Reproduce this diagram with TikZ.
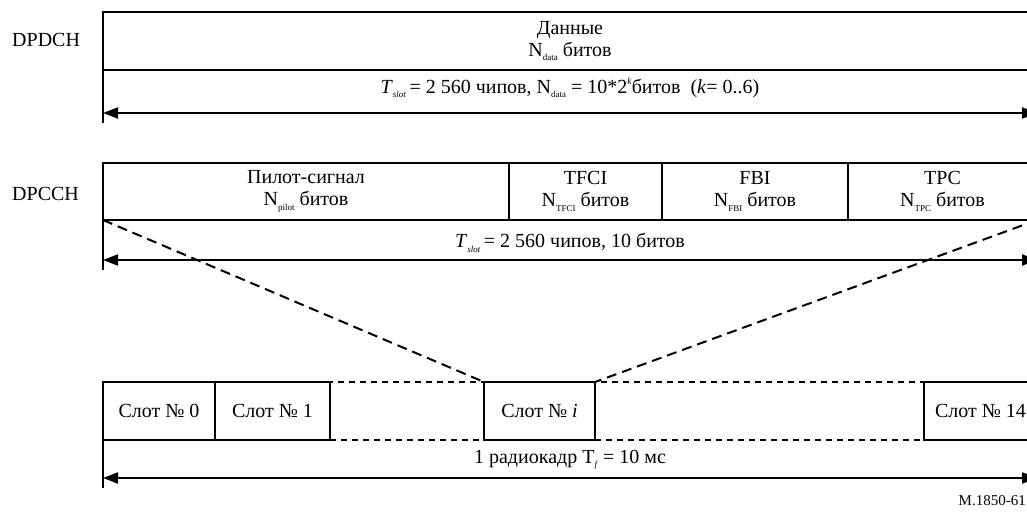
\documentclass[tikz,border=0pt]{standalone}
\usepackage{fontspec}
\setmainfont{Liberation Serif}
\usetikzlibrary{arrows.meta}

% small lowered / raised indices in running text
\newcommand{\lowsub}[1]{\raisebox{-0.5ex}{\fontsize{9}{10}\selectfont #1}}
\newcommand{\highsup}[1]{\raisebox{0.9ex}{\fontsize{9.5}{10}\selectfont #1}}

\tikzset{
  fieldbox/.style={draw, line width=2pt, inner sep=0pt, outer sep=0pt,
    anchor=north west, align=center, font=\fontsize{20}{22}\selectfont},
  gapbox/.style={draw, line width=2pt, dash pattern=on 6pt off 5pt,
    inner sep=0pt, outer sep=0pt, anchor=north west},
  lbl/.style={font=\fontsize{20}{22}\selectfont, inner sep=0pt},
  tick/.style={line width=2pt},
  span/.style={line width=2pt, {Triangle[length=15pt,width=11pt]}-{Triangle[length=15pt,width=11pt]}},
  zoomline/.style={line width=2pt, dash pattern=on 10pt off 6pt}
}

\begin{document}
\begin{tikzpicture}[x=1pt, y=-1pt]
\useasboundingbox (0,0) rectangle (1027,513);
\clip (0,0) rectangle (1027,513);

% ---------- DPDCH ----------
\node[lbl, anchor=west] (dpdchlbl) at (12,40) {DPDCH};
\node[fieldbox, minimum width=934pt, minimum height=58pt] (data) at (103,12)
  {Данные\\N\lowsub{data} битов};
\coordinate (dtick) at (103,123);
\coordinate (dl) at (103,113);
\coordinate (dr) at (1037,113);
\draw[tick] (data.south west) -- (dtick);
\draw[span] (dl) -- (dr);
\node[lbl] (dspan) at (570,88)
  {\textit{T}\lowsub{\textit{slot}}\,= 2 560 чипов, N\lowsub{data} = 10*2\highsup{\textit{k}}битов~ (\textit{k}= 0..6)};

% ---------- DPCCH ----------
\node[lbl, anchor=west] (dpcchlbl) at (12,194) {DPCCH};
\node[fieldbox, minimum width=406pt, minimum height=57pt] (pilot) at (103,163)
  {Пилот-сигнал\\N\lowsub{pilot} битов};
\node[fieldbox, minimum width=153pt, minimum height=57pt] (tfci) at (509,163)
  {TFCI\\N\lowsub{TFCI} битов};
\node[fieldbox, minimum width=186pt, minimum height=57pt] (fbi) at (662,163)
  {FBI\\N\lowsub{FBI} битов};
\node[fieldbox, minimum width=189pt, minimum height=57pt] (tpc) at (848,163)
  {TPC\\N\lowsub{TPC} битов};
\coordinate (ctick) at (103,270);
\coordinate (cl) at (103,260);
\coordinate (cr) at (1037,260);
\draw[tick] (pilot.south west) -- (ctick);
\draw[span] (cl) -- (cr);
\node[lbl] (cspan) at (570,243)
  {\textit{T}\lowsub{\textit{slot}}\,= 2 560 чипов, 10 битов};

% ---------- radio frame ----------
\node[fieldbox, minimum width=112pt, minimum height=58pt] (s0) at (103,382) {Слот № 0};
\node[fieldbox, minimum width=115pt, minimum height=58pt] (s1) at (215,382) {Слот № 1};
\node[gapbox, minimum width=154pt, minimum height=58pt] (g1) at (330,382) {};
\node[fieldbox, minimum width=111pt, minimum height=58pt] (si) at (484,382) {Слот № \textit{i}};
\node[gapbox, minimum width=329pt, minimum height=58pt] (g2) at (595,382) {};
\node[fieldbox, minimum width=113pt, minimum height=58pt] (s14) at (924,382) {Слот № 14};
\coordinate (ftick) at (103,488);
\coordinate (fl) at (103,478);
\coordinate (fr) at (1037,478);
\draw[tick] (s0.south west) -- (ftick);
\draw[span] (fl) -- (fr);
\node[lbl] (fspan) at (570,460) {1 радиокадр T\lowsub{\textit{f}} = 10 мс};

% slot i expanded into the DPCCH slot
\draw[zoomline] (pilot.south west) -- (si.north west);
\draw[zoomline] (tpc.south east) -- (si.north east);

\node[font=\fontsize{15}{17}\selectfont, anchor=east, inner sep=0pt] (figid) at (1026,501) {M.1850-61};
\end{tikzpicture}
\end{document}
